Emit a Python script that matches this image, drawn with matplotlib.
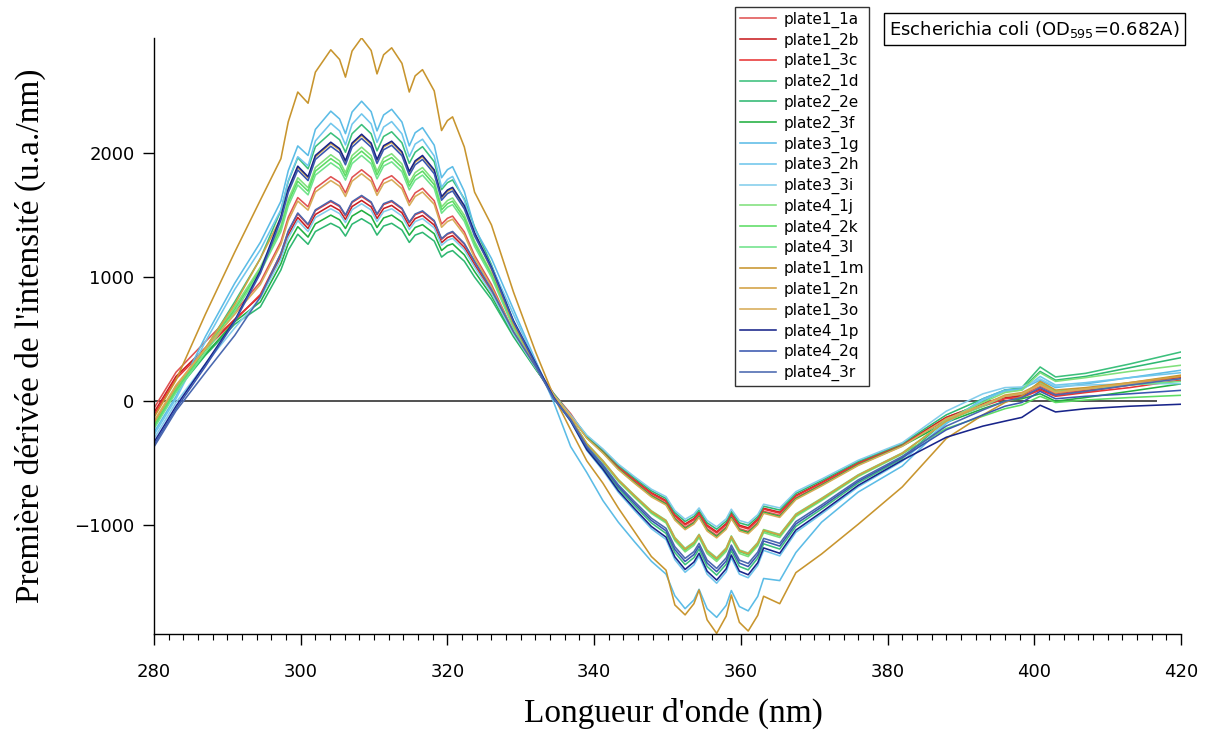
import matplotlib
matplotlib.use('Agg')
import matplotlib.pyplot as plt

# wavelength grid (nm), denser where the curves have bumps
wl = [280, 283, 287, 291, 294.5,
      297.3, 298.3, 299.6, 301.0, 302.0, 304.1, 305.3, 306.1, 307.0, 308.3, 309.6, 310.4,
      311.3, 312.4, 313.8, 314.8, 315.6, 316.6, 318.2, 319.2, 320.0, 320.7, 322.3, 323.7,
      326, 329, 332, 334.5,
      336.8, 339, 341.2, 343.3, 345.5, 347.8, 349.8, 351.0, 352.4, 353.6, 354.3, 355.4,
      356.7, 358.0, 358.7, 359.8, 361.0, 362.3, 363.1, 365.3, 367.5, 371, 376, 382,
      388, 393, 396, 398.3, 400.8, 402.9, 407, 413, 420]

# first derivative (u.a./nm)
plate1_1a = [-56, 234, 480, 720, 960,
             1286, 1481, 1640, 1566, 1715, 1808, 1763, 1678, 1803, 1864, 1802, 1687,
             1784, 1816, 1741, 1603, 1678, 1715, 1614, 1426, 1473, 1491, 1364, 1174,
             940, 560, 280, 60,
             -100, -292, -410, -540, -648, -756, -821, -940, -1015, -971, -918, -1026,
             -1080, -1012, -929, -1026, -1048, -975, -886, -918, -778, -670, -508, -356,
             -130, -20, 40, 50, 120, 62, 90, 140, 200]
plate1_2b = [-90, 200, 430, 660, 850,
             1164, 1338, 1480, 1391, 1504, 1577, 1537, 1463, 1568, 1617, 1566, 1471,
             1552, 1577, 1518, 1407, 1471, 1496, 1419, 1277, 1318, 1334, 1240, 1100,
             880, 540, 270, 50,
             -116, -284, -399, -526, -631, -736, -799, -914, -988, -945, -893, -998,
             -1051, -985, -904, -998, -1019, -948, -862, -893, -757, -652, -494, -347,
             -130, -20, 30, 40, 100, 50, 80, 130, 190]
plate1_3c = [-110, 180, 420, 650, 860,
             1188, 1365, 1510, 1419, 1535, 1609, 1568, 1493, 1601, 1650, 1598, 1502,
             1584, 1609, 1548, 1436, 1502, 1526, 1448, 1304, 1345, 1361, 1265, 1122,
             890, 550, 270, 40,
             -117, -286, -403, -530, -636, -742, -806, -922, -996, -953, -901, -1007,
             -1060, -993, -912, -1007, -1028, -956, -869, -901, -763, -657, -498, -350,
             -150, -40, 20, 30, 90, 40, 70, 110, 170]
plate2_1d = [-180, 110, 420, 800, 1150,
             1537, 1770, 1961, 1872, 2050, 2161, 2106, 2005, 2154, 2228, 2154, 2016,
             2132, 2170, 2081, 1916, 2005, 2050, 1929, 1704, 1760, 1782, 1631, 1404,
             1100, 640, 300, 30,
             -154, -378, -532, -700, -840, -980, -1064, -1218, -1316, -1259, -1190, -1330,
             -1400, -1312, -1204, -1330, -1358, -1263, -1148, -1190, -1008, -868, -658, -462,
             -150, 0, 90, 110, 276, 196, 225, 300, 397]
plate2_2e = [-210, 80, 370, 620, 760,
             1058, 1216, 1345, 1264, 1367, 1433, 1397, 1330, 1426, 1470, 1424, 1338,
             1411, 1433, 1379, 1279, 1338, 1360, 1290, 1161, 1198, 1213, 1128, 1000,
             820, 520, 260, 60,
             -113, -278, -391, -515, -618, -721, -783, -896, -968, -927, -876, -979,
             -1030, -965, -886, -979, -999, -930, -845, -876, -742, -639, -484, -340,
             -110, 20, 90, 100, 240, 170, 200, 270, 351]
plate2_3f = [-200, 90, 380, 640, 800,
             1107, 1271, 1406, 1322, 1429, 1499, 1461, 1391, 1491, 1537, 1489, 1399,
             1476, 1499, 1442, 1337, 1399, 1422, 1349, 1214, 1253, 1268, 1179, 1045,
             850, 530, 265, 50,
             -120, -294, -414, -545, -654, -763, -828, -948, -1025, -981, -927, -1036,
             -1090, -1021, -937, -1036, -1057, -984, -894, -927, -785, -676, -512, -360,
             -170, -60, 0, 20, 60, 0, 30, 80, 140]
plate3_1g = [-250, 40, 520, 950, 1280,
             1611, 1856, 2056, 1979, 2189, 2336, 2273, 2155, 2329, 2416, 2332, 2177,
             2305, 2351, 2248, 2056, 2162, 2203, 2062, 1800, 1865, 1889, 1690, 1392,
             1150, 740, 330, -10,
             -365, -574, -800, -974, -1131, -1288, -1392, -1566, -1670, -1600, -1514, -1670,
             -1740, -1643, -1524, -1653, -1688, -1571, -1427, -1444, -1218, -974, -731, -522,
             -180, 20, 90, 100, 170, 110, 140, 190, 250]
plate3_2h = [-270, 20, 480, 900, 1220,
             1543, 1777, 1969, 1895, 2096, 2238, 2177, 2064, 2231, 2314, 2234, 2085,
             2208, 2252, 2153, 1969, 2071, 2110, 1975, 1724, 1786, 1810, 1619, 1333,
             1090, 700, 320, 20,
             -161, -396, -557, -733, -879, -1026, -1113, -1275, -1377, -1318, -1245, -1392,
             -1465, -1373, -1260, -1392, -1421, -1322, -1201, -1245, -1055, -908, -689, -483,
             -170, 10, 80, 90, 200, 130, 150, 190, 230]
plate3_3i = [-300, -10, 300, 590, 830,
             1145, 1316, 1455, 1367, 1479, 1550, 1511, 1439, 1542, 1590, 1540, 1447,
             1526, 1550, 1492, 1383, 1447, 1471, 1396, 1256, 1296, 1312, 1220, 1081,
             870, 540, 270, 50,
             -111, -273, -384, -506, -607, -708, -768, -880, -950, -909, -859, -960,
             -1011, -947, -869, -960, -981, -913, -829, -859, -728, -627, -475, -334,
             -80, 60, 110, 115, 180, 120, 130, 140, 142]
plate4_1j = [-190, 100, 420, 760, 1080,
             1412, 1625, 1800, 1719, 1882, 1985, 1935, 1841, 1978, 2046, 1978, 1852,
             1958, 1993, 1911, 1760, 1841, 1882, 1771, 1565, 1616, 1637, 1498, 1289,
             1030, 610, 290, 40,
             -142, -348, -490, -645, -774, -903, -980, -1122, -1213, -1161, -1097, -1226,
             -1290, -1209, -1109, -1226, -1251, -1164, -1058, -1097, -929, -800, -606, -426,
             -150, -10, 70, 90, 230, 160, 190, 240, 290]
plate4_2k = [-200, 90, 410, 740, 1060,
             1390, 1600, 1772, 1692, 1853, 1954, 1905, 1813, 1948, 2014, 1947, 1823,
             1927, 1962, 1882, 1732, 1813, 1853, 1744, 1541, 1591, 1611, 1474, 1269,
             1020, 600, 290, 40,
             -140, -344, -485, -638, -765, -893, -969, -1109, -1199, -1147, -1084, -1211,
             -1275, -1195, -1097, -1211, -1237, -1151, -1046, -1084, -918, -791, -599, -421,
             -220, -120, -60, -30, 40, -10, 10, 30, 48]
plate4_3l = [-220, 70, 390, 720, 1040,
             1366, 1573, 1742, 1662, 1821, 1920, 1871, 1781, 1914, 1979, 1913, 1791,
             1894, 1928, 1849, 1702, 1781, 1821, 1714, 1514, 1563, 1583, 1449, 1247,
             1000, 590, 280, 40,
             -139, -340, -479, -630, -756, -882, -958, -1096, -1184, -1133, -1071, -1197,
             -1260, -1181, -1084, -1197, -1222, -1137, -1033, -1071, -907, -781, -592, -416,
             -160, -40, 40, 60, 150, 80, 100, 130, 160]
plate1_1m = [-130, 170, 700, 1200, 1620,
             1953, 2250, 2490, 2400, 2650, 2830, 2752, 2610, 2820, 2926, 2825, 2636,
             2790, 2846, 2721, 2490, 2620, 2670, 2499, 2180, 2260, 2290, 2048, 1684,
             1420, 880, 400, 40,
             -230, -480, -660, -860, -1050, -1250, -1360, -1640, -1720, -1630, -1520, -1760,
             -1869, -1730, -1560, -1780, -1850, -1724, -1570, -1630, -1380, -1230, -990, -690,
             -300, -110, -10, 40, 160, 90, 110, 150, 210]
plate1_2n = [-170, 120, 430, 780, 1150,
             1477, 1700, 1883, 1798, 1969, 2076, 2024, 1926, 2069, 2140, 2069, 1937,
             2048, 2084, 1999, 1840, 1926, 1969, 1853, 1637, 1691, 1712, 1566, 1348,
             1060, 620, 290, 30,
             -139, -342, -481, -633, -760, -886, -962, -1101, -1190, -1139, -1076, -1203,
             -1266, -1186, -1089, -1203, -1228, -1142, -1038, -1076, -912, -785, -595, -418,
             -160, -30, 50, 70, 140, 70, 100, 150, 200]
plate1_3o = [-160, 130, 420, 700, 940,
             1264, 1455, 1612, 1539, 1685, 1777, 1732, 1649, 1772, 1832, 1771, 1658,
             1753, 1784, 1711, 1576, 1649, 1685, 1586, 1401, 1447, 1466, 1341, 1154,
             920, 560, 280, 50,
             -121, -297, -418, -550, -660, -770, -836, -957, -1034, -989, -935, -1045,
             -1100, -1031, -946, -1045, -1067, -993, -902, -935, -792, -682, -517, -363,
             -140, -30, 40, 60, 130, 70, 100, 140, 180]
plate4_1p = [-330, -40, 300, 650, 1050,
             1487, 1710, 1893, 1808, 1979, 2086, 2034, 1936, 2079, 2150, 2079, 1947,
             2058, 2094, 2009, 1850, 1936, 1979, 1863, 1647, 1701, 1722, 1576, 1358,
             1080, 650, 310, 30,
             -158, -389, -547, -720, -864, -1008, -1094, -1253, -1354, -1295, -1224, -1368,
             -1440, -1349, -1238, -1368, -1397, -1300, -1181, -1224, -1037, -893, -677, -475,
             -290, -200, -160, -130, -32, -86, -60, -40, -24]
plate4_2q = [-350, -60, 280, 640, 1030,
             1460, 1681, 1862, 1777, 1947, 2053, 2001, 1904, 2046, 2116, 2046, 1915,
             2025, 2061, 1977, 1820, 1904, 1947, 1832, 1619, 1672, 1693, 1549, 1333,
             1070, 640, 300, 20,
             -151, -370, -521, -686, -823, -960, -1043, -1194, -1290, -1234, -1166, -1303,
             -1372, -1286, -1180, -1303, -1331, -1238, -1125, -1166, -988, -851, -645, -453,
             -230, -110, -40, -10, 80, 20, 40, 60, 88]
plate4_3r = [-367, -77, 230, 530, 840,
             1193, 1371, 1516, 1425, 1541, 1616, 1575, 1500, 1607, 1657, 1605, 1508,
             1591, 1616, 1555, 1442, 1508, 1533, 1455, 1309, 1350, 1367, 1271, 1127,
             900, 560, 280, 20,
             -148, -363, -511, -673, -808, -942, -1023, -1171, -1265, -1211, -1144, -1279,
             -1346, -1261, -1158, -1279, -1306, -1215, -1104, -1144, -969, -835, -633, -444,
             -200, -70, 0, 30, 110, 50, 80, 130, 182]

labels = ['plate1_1a', 'plate1_2b', 'plate1_3c', 'plate2_1d', 'plate2_2e', 'plate2_3f',
          'plate3_1g', 'plate3_2h', 'plate3_3i', 'plate4_1j', 'plate4_2k', 'plate4_3l',
          'plate1_1m', 'plate1_2n', 'plate1_3o', 'plate4_1p', 'plate4_2q', 'plate4_3r']
series = [plate1_1a, plate1_2b, plate1_3c, plate2_1d, plate2_2e, plate2_3f,
          plate3_1g, plate3_2h, plate3_3i, plate4_1j, plate4_2k, plate4_3l,
          plate1_1m, plate1_2n, plate1_3o, plate4_1p, plate4_2q, plate4_3r]
colors = ['#e05252', '#c81e22', '#e83434', '#3cc07c', '#2fb872', '#22b040',
          '#5cbce6', '#70c6ec', '#84cdec', '#80e07c', '#5cdc64', '#70e38a',
          '#c8952e', '#d2a042', '#d8ab58', '#18248a', '#3a58b0', '#4a68b0']

zero_end = 416.7  # baseline trace stops short of 420

fig = plt.figure(figsize=(12.06, 7.35), dpi=100)
ax = fig.add_axes([154/1206, 1 - 634/735, (1181 - 154)/1206, (634 - 38)/735])

ax.hlines(0, 280, zero_end, color='#222222', lw=1.1, zorder=1)
for y, lab, c in zip(series, labels, colors):
    ax.plot(wl, y, color=c, lw=1.15, label=lab, solid_joinstyle='round', zorder=2)

ax.set_xlim(280, 420)
ax.set_ylim(-1874, 2925)
ax.set_xticks(range(280, 421, 20))
ax.set_xticks(range(280, 421, 2), minor=True)
ax.set_yticks([-1000, 0, 1000, 2000])
for s in ['top', 'right']:
    ax.spines[s].set_visible(False)
for s in ['left', 'bottom']:
    ax.spines[s].set_linewidth(1.0)
ax.tick_params(axis='x', which='major', direction='out', length=8, width=1, pad=13, labelsize=13)
ax.tick_params(axis='x', which='minor', direction='out', length=4.5, width=0.8)
ax.tick_params(axis='y', which='major', direction='out', length=8, width=1, pad=6, labelsize=13)

fig.text(673/1206, 1 - 713/735, "Longueur d'onde (nm)", family='Liberation Serif',
         fontsize=24, ha='center', va='center')
fig.text(30/1206, 1 - 336/735, "Première dérivée de l'intensité (u.a./nm)", family='Liberation Serif',
         fontsize=24, ha='center', va='center', rotation=90)

leg = ax.legend(loc='upper left', bbox_to_anchor=(735/1206, 1 - 7/735), bbox_transform=fig.transFigure,
                fontsize=11, frameon=True, fancybox=False, edgecolor='#333333', framealpha=1,
                borderpad=0.3, labelspacing=0.3, handlelength=2.4, handletextpad=0.5, borderaxespad=0)
leg.get_frame().set_linewidth(1.0)

fig.text(889/1206, 1 - 29/735, 'Escherichia coli (OD$_{595}$=0.682A)', fontsize=13, ha='left', va='center',
         bbox=dict(boxstyle='square,pad=0.3', fc='white', ec='black', lw=1))

fig.savefig('out.png', dpi=100)
